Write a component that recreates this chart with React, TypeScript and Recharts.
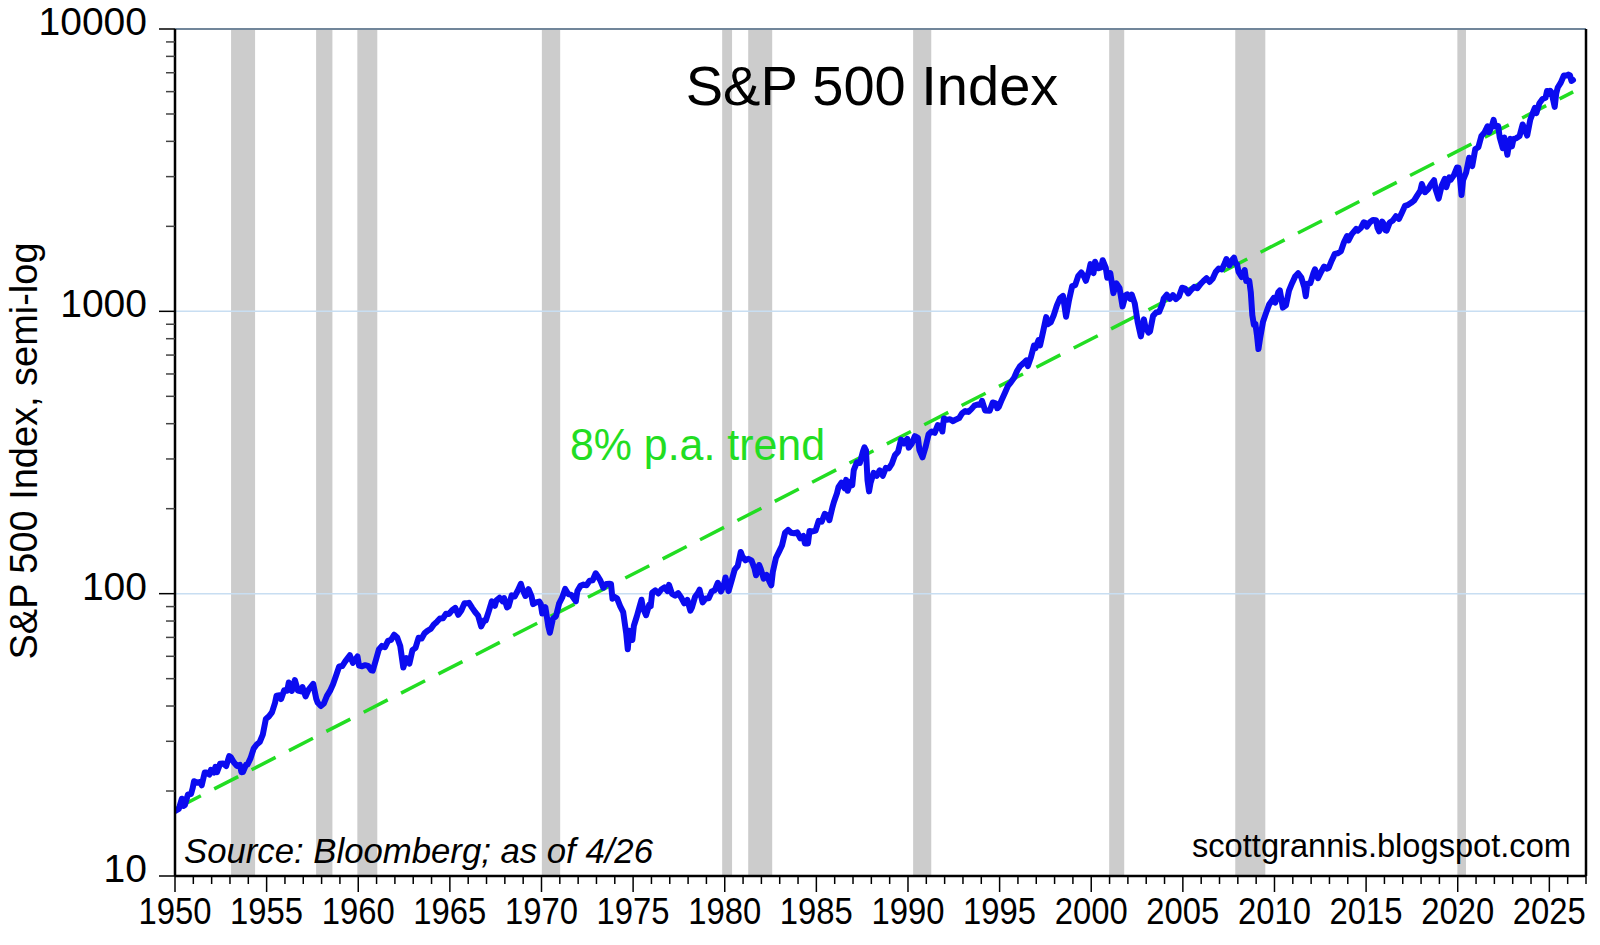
import React from "react";
import { LineChart, Line, XAxis, YAxis, ReferenceArea, ReferenceLine } from "recharts";

// [year, month, month-end close]
type Row = [number, number, number];

const SPX_1950S: Row[] = [
  [1950, 1, 17.05], [1950, 3, 17.29], [1950, 5, 18.78], [1950, 6, 17.69], [1950, 7, 17.84], [1950, 9, 19.45], [1950, 11, 19.51], [1950, 12, 20.41],
  [1951, 1, 21.66], [1951, 3, 21.4], [1951, 5, 21.52], [1951, 6, 20.96], [1951, 8, 23.28], [1951, 9, 23.26], [1951, 11, 22.88], [1951, 12, 23.77],
  [1952, 2, 23.26], [1952, 3, 24.37], [1952, 4, 23.32], [1952, 6, 24.96], [1952, 8, 25.03], [1952, 10, 24.52], [1952, 12, 26.57],
  [1953, 1, 26.38], [1953, 3, 25.29], [1953, 5, 24.54], [1953, 7, 24.75], [1953, 8, 23.32], [1953, 9, 23.35], [1953, 11, 24.76], [1953, 12, 24.81],
  [1954, 2, 26.15], [1954, 4, 28.26], [1954, 6, 29.21], [1954, 8, 29.83], [1954, 10, 31.68], [1954, 12, 35.98],
  [1955, 2, 36.76], [1955, 4, 37.96], [1955, 6, 41.03], [1955, 7, 43.52], [1955, 9, 43.67], [1955, 10, 42.34], [1955, 12, 45.48],
  [1956, 2, 45.34], [1956, 3, 48.48], [1956, 5, 45.2], [1956, 7, 49.39], [1956, 9, 45.35], [1956, 11, 45.08], [1956, 12, 46.67],
  [1957, 2, 43.26], [1957, 4, 45.74], [1957, 7, 47.91], [1957, 9, 42.42], [1957, 10, 41.06], [1957, 12, 39.99],
  [1958, 2, 40.84], [1958, 4, 43.44], [1958, 6, 45.24], [1958, 8, 47.75], [1958, 10, 51.33], [1958, 12, 55.21],
  [1959, 2, 55.41], [1959, 4, 57.59], [1959, 7, 60.51], [1959, 9, 56.88], [1959, 12, 59.89],
];

const SPX_1960S: Row[] = [
  [1960, 1, 55.61], [1960, 3, 55.34], [1960, 5, 55.83], [1960, 7, 55.51], [1960, 9, 53.52], [1960, 10, 53.39], [1960, 12, 58.11],
  [1961, 2, 63.44], [1961, 4, 65.31], [1961, 6, 64.64], [1961, 8, 68.07], [1961, 10, 68.62], [1961, 12, 71.55],
  [1962, 2, 69.96], [1962, 4, 65.24], [1962, 6, 54.75], [1962, 8, 59.12], [1962, 10, 56.52], [1962, 12, 63.1],
  [1963, 2, 64.29], [1963, 4, 69.8], [1963, 6, 69.37], [1963, 8, 72.5], [1963, 10, 74.01], [1963, 12, 75.02],
  [1964, 2, 77.8], [1964, 4, 79.46], [1964, 6, 81.69], [1964, 8, 81.83], [1964, 10, 84.86], [1964, 12, 84.75],
  [1965, 2, 87.43], [1965, 4, 89.11], [1965, 6, 84.12], [1965, 8, 87.17], [1965, 10, 92.42], [1965, 12, 92.43],
  [1966, 1, 92.88], [1966, 3, 89.23], [1966, 5, 86.13], [1966, 7, 83.6], [1966, 9, 76.56], [1966, 11, 80.45], [1966, 12, 80.33],
  [1967, 2, 86.78], [1967, 4, 94.01], [1967, 6, 90.64], [1967, 7, 94.75], [1967, 9, 96.71], [1967, 11, 94.0], [1967, 12, 96.47],
  [1968, 2, 89.36], [1968, 3, 90.2], [1968, 5, 98.68], [1968, 7, 97.74], [1968, 9, 102.67], [1968, 11, 108.37], [1968, 12, 103.86],
  [1969, 2, 98.13], [1969, 4, 103.69], [1969, 6, 97.71], [1969, 7, 91.83], [1969, 9, 93.12], [1969, 11, 93.81], [1969, 12, 92.06],
];

const SPX_1970S: Row[] = [
  [1970, 1, 85.02], [1970, 3, 89.63], [1970, 5, 76.55], [1970, 6, 72.72], [1970, 8, 81.52], [1970, 10, 83.25], [1970, 12, 92.15],
  [1971, 2, 96.75], [1971, 4, 103.95], [1971, 6, 99.7], [1971, 8, 99.03], [1971, 11, 93.99], [1971, 12, 102.09],
  [1972, 2, 106.57], [1972, 4, 107.67], [1972, 6, 107.14], [1972, 8, 111.09], [1972, 10, 111.58], [1972, 12, 118.05],
  [1973, 1, 116.03], [1973, 3, 111.52], [1973, 5, 104.95], [1973, 7, 108.22], [1973, 9, 108.43], [1973, 10, 108.29], [1973, 11, 95.96], [1973, 12, 97.55],
  [1974, 2, 96.22], [1974, 4, 90.31], [1974, 6, 86.0], [1974, 8, 72.15], [1974, 9, 63.54], [1974, 10, 73.9], [1974, 11, 69.97], [1974, 12, 68.56],
  [1975, 1, 76.98], [1975, 3, 83.36], [1975, 5, 91.15], [1975, 6, 95.19], [1975, 7, 88.75], [1975, 9, 83.87], [1975, 11, 91.24], [1975, 12, 90.19],
  [1976, 1, 100.86], [1976, 3, 102.77], [1976, 5, 100.18], [1976, 7, 103.44], [1976, 9, 105.24], [1976, 11, 102.1], [1976, 12, 107.46],
  [1977, 2, 99.82], [1977, 4, 98.44], [1977, 6, 100.48], [1977, 8, 96.77], [1977, 10, 92.34], [1977, 12, 95.1],
  [1978, 2, 87.04], [1978, 3, 89.21], [1978, 5, 97.24], [1978, 7, 100.68], [1978, 8, 103.29], [1978, 10, 93.15], [1978, 12, 96.11],
  [1979, 2, 96.28], [1979, 4, 101.76], [1979, 6, 102.91], [1979, 8, 109.32], [1979, 10, 101.82], [1979, 12, 107.94],
];

const SPX_1980S: Row[] = [
  [1980, 1, 114.16], [1980, 3, 102.09], [1980, 5, 111.24], [1980, 7, 121.67], [1980, 9, 125.46], [1980, 11, 140.52], [1980, 12, 135.76],
  [1981, 2, 131.27], [1981, 4, 132.81], [1981, 6, 131.21], [1981, 8, 122.79], [1981, 9, 116.18], [1981, 11, 126.35], [1981, 12, 122.55],
  [1982, 2, 113.11], [1982, 4, 116.44], [1982, 6, 109.61], [1982, 7, 107.09], [1982, 8, 119.51], [1982, 10, 133.71], [1982, 12, 140.64],
  [1983, 2, 148.06], [1983, 4, 164.42], [1983, 6, 168.11], [1983, 8, 164.4], [1983, 10, 163.55], [1983, 12, 164.93],
  [1984, 2, 157.06], [1984, 4, 160.05], [1984, 5, 150.55], [1984, 7, 150.66], [1984, 8, 166.68], [1984, 10, 166.09], [1984, 12, 167.24],
  [1985, 2, 181.18], [1985, 4, 179.83], [1985, 6, 191.85], [1985, 8, 188.63], [1985, 9, 182.08], [1985, 11, 202.17], [1985, 12, 211.28],
  [1986, 2, 226.92], [1986, 3, 238.9], [1986, 5, 247.35], [1986, 7, 236.12], [1986, 8, 252.93], [1986, 9, 231.32], [1986, 11, 249.22], [1986, 12, 242.17],
  [1987, 1, 274.08], [1987, 3, 291.7], [1987, 5, 290.1], [1987, 7, 318.66], [1987, 8, 329.8], [1987, 9, 321.83], [1987, 10, 251.79], [1987, 11, 230.3], [1987, 12, 247.08],
  [1988, 2, 267.82], [1988, 4, 261.33], [1988, 6, 273.5], [1988, 8, 261.52], [1988, 10, 278.97], [1988, 12, 277.72],
  [1989, 2, 288.86], [1989, 4, 309.64], [1989, 6, 317.98], [1989, 8, 351.45], [1989, 10, 340.36], [1989, 12, 353.4],
];

const SPX_1990S: Row[] = [
  [1990, 1, 329.08], [1990, 3, 339.94], [1990, 5, 361.23], [1990, 7, 356.15], [1990, 8, 322.56], [1990, 10, 304.0], [1990, 12, 330.22],
  [1991, 2, 367.07], [1991, 4, 375.34], [1991, 6, 371.16], [1991, 8, 395.43], [1991, 10, 392.45], [1991, 11, 375.22], [1991, 12, 417.09],
  [1992, 2, 412.7], [1992, 4, 414.95], [1992, 6, 408.14], [1992, 8, 414.03], [1992, 10, 418.68], [1992, 12, 435.71],
  [1993, 2, 443.38], [1993, 4, 440.19], [1993, 6, 450.53], [1993, 8, 463.56], [1993, 10, 467.83], [1993, 12, 466.45],
  [1994, 1, 481.61], [1994, 3, 445.77], [1994, 6, 444.27], [1994, 8, 475.49], [1994, 10, 472.35], [1994, 11, 453.69], [1994, 12, 459.27],
  [1995, 2, 487.39], [1995, 4, 514.71], [1995, 6, 544.75], [1995, 8, 561.88], [1995, 10, 581.5], [1995, 12, 615.93],
  [1996, 2, 640.43], [1996, 4, 654.17], [1996, 6, 670.63], [1996, 7, 639.95], [1996, 9, 687.31], [1996, 11, 757.02], [1996, 12, 740.74],
  [1997, 2, 790.82], [1997, 3, 757.12], [1997, 5, 848.28], [1997, 7, 954.29], [1997, 8, 899.47], [1997, 10, 914.62], [1997, 12, 970.43],
  [1998, 2, 1049.34], [1998, 4, 1111.75], [1998, 6, 1133.84], [1998, 8, 957.28], [1998, 10, 1098.67], [1998, 12, 1229.23],
  [1999, 2, 1238.33], [1999, 4, 1335.18], [1999, 6, 1372.71], [1999, 8, 1320.41], [1999, 9, 1282.71], [1999, 11, 1388.91], [1999, 12, 1469.25],
];

const SPX_2000S: Row[] = [
  [2000, 2, 1366.42], [2000, 3, 1498.58], [2000, 5, 1420.6], [2000, 7, 1430.83], [2000, 8, 1517.68], [2000, 10, 1429.4], [2000, 11, 1314.95], [2000, 12, 1320.28],
  [2001, 1, 1366.01], [2001, 3, 1160.33], [2001, 5, 1255.82], [2001, 7, 1211.23], [2001, 9, 1040.94], [2001, 11, 1139.45], [2001, 12, 1148.08],
  [2002, 2, 1106.73], [2002, 3, 1147.39], [2002, 5, 1067.14], [2002, 7, 911.62], [2002, 9, 815.28], [2002, 11, 936.31], [2002, 12, 879.82],
  [2003, 2, 841.15], [2003, 3, 848.18], [2003, 5, 963.59], [2003, 7, 990.31], [2003, 9, 995.97], [2003, 11, 1058.2], [2003, 12, 1111.92],
  [2004, 2, 1144.94], [2004, 4, 1107.3], [2004, 6, 1140.84], [2004, 8, 1104.24], [2004, 10, 1130.2], [2004, 12, 1211.92],
  [2005, 2, 1203.6], [2005, 4, 1156.85], [2005, 6, 1191.33], [2005, 8, 1220.33], [2005, 10, 1207.01], [2005, 12, 1248.29],
  [2006, 2, 1280.66], [2006, 4, 1310.61], [2006, 6, 1270.2], [2006, 8, 1303.82], [2006, 10, 1377.94], [2006, 12, 1418.3],
  [2007, 2, 1406.82], [2007, 4, 1482.37], [2007, 5, 1530.62], [2007, 7, 1455.27], [2007, 9, 1526.75], [2007, 10, 1549.38], [2007, 11, 1481.14], [2007, 12, 1468.36],
  [2008, 1, 1378.55], [2008, 3, 1322.7], [2008, 5, 1400.38], [2008, 6, 1280.0], [2008, 8, 1282.83], [2008, 9, 1166.36], [2008, 10, 968.75], [2008, 11, 896.24], [2008, 12, 903.25],
  [2009, 1, 825.88], [2009, 2, 735.09], [2009, 3, 797.87], [2009, 5, 919.14], [2009, 7, 987.48], [2009, 9, 1057.08], [2009, 11, 1095.63], [2009, 12, 1115.1],
];

const SPX_2010S: Row[] = [
  [2010, 1, 1073.87], [2010, 3, 1169.43], [2010, 4, 1186.69], [2010, 6, 1030.71], [2010, 8, 1049.33], [2010, 10, 1183.26], [2010, 12, 1257.64],
  [2011, 2, 1327.22], [2011, 4, 1363.61], [2011, 6, 1320.64], [2011, 8, 1218.89], [2011, 9, 1131.42], [2011, 10, 1253.3], [2011, 12, 1257.6],
  [2012, 2, 1365.68], [2012, 3, 1408.47], [2012, 5, 1310.33], [2012, 7, 1379.32], [2012, 9, 1440.67], [2012, 11, 1416.18], [2012, 12, 1426.19],
  [2013, 2, 1514.68], [2013, 4, 1597.57], [2013, 6, 1606.28], [2013, 8, 1632.97], [2013, 10, 1756.54], [2013, 12, 1848.36],
  [2014, 1, 1782.59], [2014, 3, 1872.34], [2014, 6, 1960.23], [2014, 7, 1930.67], [2014, 9, 1972.29], [2014, 11, 2067.56], [2014, 12, 2058.9],
  [2015, 1, 1994.99], [2015, 3, 2067.89], [2015, 5, 2107.39], [2015, 7, 2103.84], [2015, 8, 1972.18], [2015, 9, 1920.03], [2015, 11, 2080.41], [2015, 12, 2043.94],
  [2016, 1, 1940.24], [2016, 2, 1932.23], [2016, 4, 2065.3], [2016, 6, 2098.86], [2016, 8, 2170.95], [2016, 10, 2126.15], [2016, 12, 2238.83],
  [2017, 2, 2363.64], [2017, 4, 2384.2], [2017, 6, 2423.41], [2017, 8, 2471.65], [2017, 10, 2575.26], [2017, 12, 2673.61],
  [2018, 1, 2823.81], [2018, 3, 2640.87], [2018, 5, 2705.27], [2018, 7, 2816.29], [2018, 9, 2913.98], [2018, 10, 2711.74], [2018, 12, 2506.85],
  [2019, 2, 2784.49], [2019, 4, 2945.83], [2019, 5, 2752.06], [2019, 7, 2980.38], [2019, 8, 2926.46], [2019, 10, 3037.56], [2019, 12, 3230.78],
];

const SPX_2020S: Row[] = [
  [2020, 1, 3225.52], [2020, 2, 2954.22], [2020, 3, 2584.59], [2020, 4, 2912.43], [2020, 6, 3100.29], [2020, 8, 3500.31], [2020, 10, 3269.96], [2020, 12, 3756.07],
  [2021, 2, 3811.15], [2021, 4, 4181.17], [2021, 6, 4297.5], [2021, 8, 4522.68], [2021, 9, 4307.54], [2021, 11, 4567.0], [2021, 12, 4766.18],
  [2022, 1, 4515.55], [2022, 3, 4530.41], [2022, 4, 4131.93], [2022, 6, 3785.38], [2022, 7, 4130.29], [2022, 9, 3585.62], [2022, 10, 3871.98], [2022, 11, 4080.11], [2022, 12, 3839.5],
  [2023, 1, 4076.6], [2023, 3, 4109.31], [2023, 5, 4179.83], [2023, 7, 4588.96], [2023, 10, 4193.8], [2023, 12, 4769.83],
  [2024, 2, 5096.27], [2024, 3, 5254.35], [2024, 4, 5035.69], [2024, 6, 5460.48], [2024, 8, 5648.4], [2024, 10, 5705.45], [2024, 11, 6032.38], [2024, 12, 5881.63],
  [2025, 1, 6040.53], [2025, 2, 5954.5], [2025, 3, 5611.85], [2025, 4, 5300], [2025, 5, 5911.69], [2025, 6, 6204.95], [2025, 8, 6460], [2025, 10, 6840], [2025, 12, 6845],
  [2026, 1, 6900], [2026, 2, 6850], [2026, 3, 6550], [2026, 4, 6600],
];

// recession shading, decimal years
const RECESSIONS: [number, number][] = [
  [1953.06, 1954.37], [1957.7, 1958.59], [1959.95, 1961.04], [1970.02, 1971.02],
  [1979.86, 1980.4], [1981.28, 1982.59], [1990.28, 1991.27], [2000.98, 2001.8],
  [2007.86, 2009.5], [2019.98, 2020.45],
];

// 8% p.a. trend endpoints
const TREND = [
  { t: 1950.1, v: 17.4 },
  { t: 2026.3, v: 5990 },
];

const X_MAJOR = [1950, 1955, 1960, 1965, 1970, 1975, 1980, 1985, 1990, 1995, 2000, 2005, 2010, 2015, 2020, 2025];
const X_TICKS = Array.from({ length: 78 }, (_, i) => 1950 + i);
const Y_MAJOR = [10, 100, 1000, 10000];
const Y_TICKS = [10, 100, 1000].flatMap((d) => [1, 2, 3, 4, 5, 6, 7, 8, 9].map((k) => k * d)).concat([10000]);

const spx = [...SPX_1950S, ...SPX_1960S, ...SPX_1970S, ...SPX_1980S, ...SPX_1990S, ...SPX_2000S, ...SPX_2010S, ...SPX_2020S].map(
  ([y, m, v]) => ({ t: y + (m - 0.5) / 12, v })
);

const FONT = "'Liberation Sans', Arial, sans-serif";
const GREEN = "#22dd22";

const XTick = (props: any) => {
  const { x, y, payload } = props;
  const major = X_MAJOR.includes(payload.value);
  return (
    <g>
      <line x1={x} x2={x} y1={y} y2={y + (major ? 16 : 8)} stroke="#000" strokeWidth={1.5} />
      {major && (
        <text x={x} y={y + 48} textAnchor="middle" fontSize={37} fontFamily={FONT} fill="#000" textLength={73} lengthAdjust="spacingAndGlyphs">
          {payload.value}
        </text>
      )}
    </g>
  );
};

const YTick = (props: any) => {
  const { x, y, payload } = props;
  const major = Y_MAJOR.includes(payload.value);
  return (
    <g>
      <line x1={x - (major ? 16 : 9)} x2={x} y1={y} y2={y} stroke={major ? "#000" : "#444"} strokeWidth={1.5} />
      {major && (
        <text x={x - 28} y={y + 6} textAnchor="end" fontSize={39} fontFamily={FONT} fill="#000">
          {payload.value}
        </text>
      )}
    </g>
  );
};

export default function App() {
  return (
    <div style={{ position: "absolute", left: 0, top: 0, width: 1600, height: 945, background: "#fff" }}>
      <LineChart width={1600} height={945} data={spx} margin={{ top: 29, right: 14, left: 0, bottom: 0 }}>
        {RECESSIONS.map(([a, b]) => (
          <ReferenceArea key={a} x1={a} x2={b} y1={10} y2={10000} fill="#cccccc" fillOpacity={1} stroke="none" />
        ))}
        <ReferenceLine y={100} stroke="#c8def2" strokeWidth={1.5} />
        <ReferenceLine y={1000} stroke="#c8def2" strokeWidth={1.5} />
        <ReferenceLine y={10000} stroke="#71869a" strokeWidth={2} />
        <ReferenceLine x={2027} stroke="#000" strokeWidth={2.5} />
        <XAxis
          dataKey="t"
          type="number"
          domain={[1950, 2027]}
          ticks={X_TICKS}
          interval={0}
          allowDataOverflow
          height={69}
          tickSize={0}
          tickMargin={0}
          tickLine={false}
          tick={<XTick />}
          axisLine={{ stroke: "#000", strokeWidth: 2.5 }}
        />
        <YAxis
          type="number"
          scale="log"
          domain={[10, 10000]}
          ticks={Y_TICKS}
          interval={0}
          allowDataOverflow
          width={175}
          tickSize={0}
          tickMargin={0}
          tickLine={false}
          tick={<YTick />}
          axisLine={{ stroke: "#000", strokeWidth: 2.5 }}
        />
        <Line
          data={TREND}
          dataKey="v"
          type="linear"
          stroke={GREEN}
          strokeWidth={3.5}
          strokeDasharray="27 15"
          dot={false}
          isAnimationActive={false}
        />
        <Line
          dataKey="v"
          type="linear"
          stroke="#0b0bf0"
          strokeWidth={6}
          strokeLinejoin="round"
          strokeLinecap="round"
          dot={false}
          isAnimationActive={false}
        />
      </LineChart>
      <svg width={1600} height={945} style={{ position: "absolute", left: 0, top: 0, pointerEvents: "none" }}>
        <text x={872} y={105} textAnchor="middle" fontSize={56} fontFamily={FONT} fill="#000">
          S&amp;P 500 Index
        </text>
        <text
          x={37}
          y={451}
          transform="rotate(-90 37 451)"
          textAnchor="middle"
          fontSize={39}
          fontFamily={FONT}
          fill="#000"
          textLength={417}
          lengthAdjust="spacingAndGlyphs"
        >
          S&amp;P 500 Index, semi-log
        </text>
        <text x={570} y={460} fontSize={44} fontFamily={FONT} fill={GREEN} textLength={255} lengthAdjust="spacingAndGlyphs">
          8% p.a. trend
        </text>
        <text x={184} y={863} fontSize={35} fontStyle="italic" fontFamily={FONT} fill="#000" textLength={469} lengthAdjust="spacingAndGlyphs">
          Source: Bloomberg; as of 4/26
        </text>
        <text x={1571} y={857} textAnchor="end" fontSize={34} fontFamily={FONT} fill="#000" textLength={379} lengthAdjust="spacingAndGlyphs">
          scottgrannis.blogspot.com
        </text>
      </svg>
    </div>
  );
}
